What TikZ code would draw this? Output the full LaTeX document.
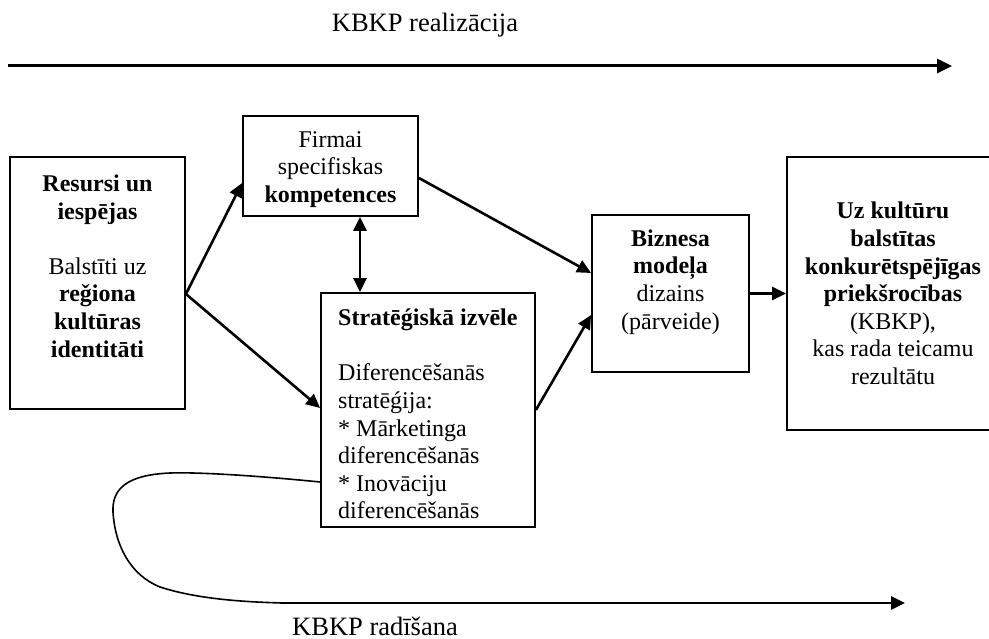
\documentclass[tikz,border=0pt]{standalone}
\usepackage{fontspec}
\setmainfont{Liberation Serif}
\usetikzlibrary{arrows.meta}
\newcommand\fsbox{\fontsize{24}{27.6}\selectfont}
\newcommand\fslab{\fontsize{26.5}{30}\selectfont}
\begin{document}
\begin{tikzpicture}[x=1pt,y=-1pt,
  box/.style={draw, line width=1.8pt, inner sep=0pt},
  txt/.style={inner sep=0pt, align=center, font=\fsbox},
  conn/.style={line width=2.6pt, -{Triangle[length=14pt,width=13pt]}},
  dconn/.style={line width=2.6pt, {Triangle[length=14pt,width=13pt]}-{Triangle[length=14pt,width=13pt]}},
  lab/.style={inner sep=0pt, font=\fslab}]
\useasboundingbox (0,0) rectangle (989,639);
% boxes
\node[box, minimum width=175pt, minimum height=252pt] (A) at (97.5,283) {};
\node[box, minimum width=175pt, minimum height=100pt] (B) at (330.5,166) {};
\node[box, minimum width=214pt, minimum height=234pt] (C) at (428,410) {};
\node[box, minimum width=157pt, minimum height=157pt] (D) at (670.5,293.5) {};
\node[box, minimum width=212pt, minimum height=273pt] (E) at (893,293.5) {};
% texts
\node[txt] (tA) at (97.5,266) {\textbf{Resursi un}\\\textbf{iesp\=ejas}\\[27.6pt]Balst\={\i}ti uz\\\textbf{re\v{g}iona}\\\textbf{kult\=uras}\\\textbf{identit\=ati}};
\node[txt] (tB) at (330.5,169.5) {Firmai\\specifiskas\\\textbf{kompetences}};
\node[txt, align=left, anchor=west] (tC) at (338,414) {\textbf{Strat\=e\'{g}isk\=a izv\=ele}\\[27.6pt]Diferenc\=e\v{s}an\=as\\strat\=e\'{g}ija:\\* M\=arketinga\\diferenc\=e\v{s}an\=as\\* Inov\=aciju\\diferenc\=e\v{s}an\=as};
\node[txt] (tD) at (670.5,282) {\textbf{Biznesa}\\\textbf{mode\c{l}a}\\dizains\\(p\=arveide)};
\node[txt] (tE) at (893,293.5) {\textbf{Uz kult\=uru}\\\textbf{balst\={\i}tas}\\\textbf{konkur\=etsp\=ej\={\i}gas}\\\textbf{priek\v{s}roc\={\i}bas}\\(KBKP),\\kas rada teicamu\\rezult\=atu};
% labels
\node[lab] (top) at (425,25) {KBKP realiz\=acija};
\node[lab] (bot) at (375,626) {KBKP rad\={\i}\v{s}ana};
% top arrow
\coordinate (t0) at (8,66);
\coordinate (t1) at (952,66);
\draw[conn, line width=3pt, -{Triangle[length=15pt,width=14pt]}] (t0) -- (t1);
% connectors
\draw[conn] ([yshift=-11pt]A.east) -- ([yshift=-17pt]B.west);
\draw[conn] ([yshift=-11pt]A.east) -- ([yshift=2pt]C.west);
\draw[dconn] ([xshift=29.5pt]B.south) -- ([xshift=-68pt]C.north);
\draw[conn] ([yshift=-12pt]B.east) -- ([yshift=20.5pt]D.west);
\draw[conn] (C.east) -- ([yshift=-21.5pt]D.west);
\draw[conn] (D.east) -- (E.west);
% loop
\coordinate (r0) at (282,603);
\coordinate (r1) at (905,603);
\draw[line width=1.6pt] ([yshift=-72pt]C.west) .. controls (260,476) and (200,472) .. (170,473)
  .. controls (125,475) and (112,490) .. (113,512)
  .. controls (115,545) and (130,575) .. (160,587)
  .. controls (200,600) and (250,602) .. (r0);
\draw[conn, line width=2.6pt] (r0) -- (r1);
\end{tikzpicture}
\end{document}
